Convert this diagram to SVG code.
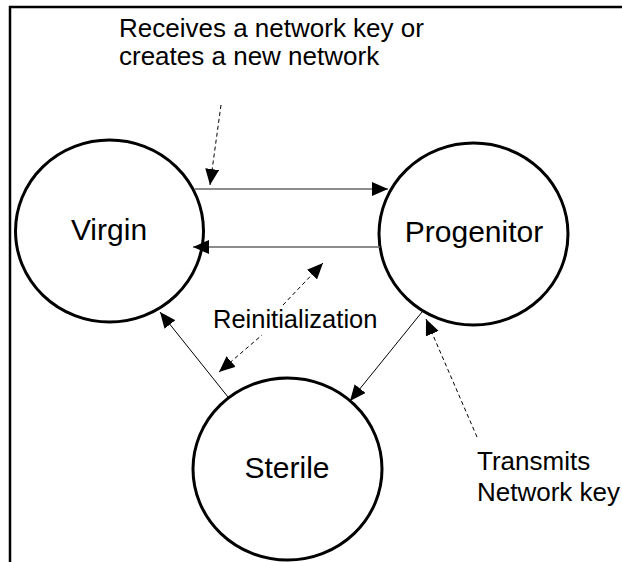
<svg xmlns="http://www.w3.org/2000/svg" width="622" height="562" viewBox="0 0 622 562">
<defs>
<style>
.node{fill:#fff;stroke:#000;stroke-width:3}
.nl{font-family:"Liberation Sans",Arial,sans-serif;font-size:30px;fill:#000;text-anchor:middle}
.lbl{font-family:"Liberation Sans",Arial,sans-serif;font-size:26px;fill:#000}
.c{fill:none;stroke:#000;stroke-width:1}
.g{fill:none;stroke:#666;stroke-width:1.5}
.d{fill:none;stroke:#000;stroke-width:1;stroke-dasharray:4 3}
</style>
<marker id="ah" viewBox="0 0 16 14" refX="16" refY="7" markerWidth="16" markerHeight="14" markerUnits="userSpaceOnUse" orient="auto-start-reverse">
<path d="M0,0 L16,7 L0,14 Z" fill="#000"/>
</marker>
</defs>
<path d="M10,562 V7 H622" fill="none" stroke="#000" stroke-width="2.5"/>
<g id="virgin">
<ellipse class="node" cx="109.5" cy="231" rx="94" ry="91"/>
<text class="nl" x="109" y="240">Virgin</text>
</g>
<g id="progenitor">
<ellipse class="node" cx="473.5" cy="234" rx="94.5" ry="91"/>
<text class="nl" x="474" y="242">Progenitor</text>
</g>
<g id="sterile">
<ellipse class="node" cx="287.5" cy="469" rx="94.5" ry="91"/>
<text class="nl" x="287" y="478">Sterile</text>
</g>
<g id="labels">
<text class="lbl" x="119" y="37">Receives a network key or</text>
<text class="lbl" x="119" y="65">creates a new network</text>
<text class="lbl" x="213" y="328" style="font-size:25.5px">Reinitialization</text>
<text class="lbl" x="477" y="470">Transmits</text>
<text class="lbl" x="477" y="501">Network key</text>
</g>
<g id="connectors">
<path class="g" d="M195,189 H388" marker-end="url(#ah)"/>
<path class="g" d="M380,247 H193" marker-end="url(#ah)"/>
<path class="c" d="M228,397 L160,312" marker-end="url(#ah)"/>
<path class="c" d="M422,312 L350,401" marker-end="url(#ah)"/>
<path class="d" d="M221,105 L210,185" marker-end="url(#ah)"/>
<path class="d" d="M219,372 L262,335 M283,305 L323,263" marker-start="url(#ah)" marker-end="url(#ah)"/>
<path class="d" d="M477,437 L426,319" marker-end="url(#ah)"/>
</g>
</svg>
